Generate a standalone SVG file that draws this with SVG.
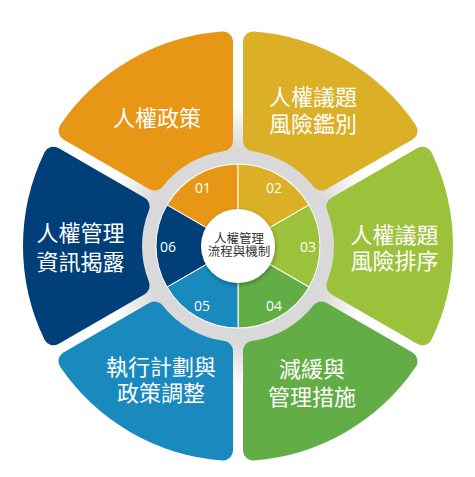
<svg xmlns="http://www.w3.org/2000/svg" width="475" height="477" viewBox="0 0 475 477">
<defs>
  <style>
    .petal{stroke-width:20;stroke-linejoin:round}
    .lbl{font-family:"Noto Sans CJK TC","Noto Sans CJK SC",sans-serif;font-size:22px;fill:#ffffff;text-anchor:middle}
    .num{font-family:"Open Sans","Noto Sans",sans-serif;font-size:14px;fill:#ffffff;text-anchor:middle}
    .ctr{font-family:"Noto Sans CJK TC","Noto Sans CJK SC",sans-serif;font-size:12.5px;fill:#333333;text-anchor:middle}
    .c1{fill:#E89616;stroke:#E89616}
    .c2{fill:#DBB027;stroke:#DBB027}
    .c3{fill:#9CC23B;stroke:#9CC23B}
    .c4{fill:#62AD45;stroke:#62AD45}
    .c5{fill:#1A89BD;stroke:#1A89BD}
    .c6{fill:#013F79;stroke:#013F79}
    .s1{fill:#E89616}
    .s2{fill:#DBB027}
    .s3{fill:#9CC23B}
    .s4{fill:#62AD45}
    .s5{fill:#1A89BD}
    .s6{fill:#013F79}
    .sec{stroke:#ffffff;stroke-width:1}
  </style>
  <radialGradient id="bgGrad" cx="0" cy="0" r="140" gradientUnits="userSpaceOnUse">
    <stop offset="0" stop-color="#d9d9d9"/>
    <stop offset="0.69" stop-color="#d9d9d9"/>
    <stop offset="0.8" stop-color="#e6e6e6"/>
    <stop offset="1" stop-color="#ffffff"/>
  </radialGradient>
  <path id="petal" d="M -89.24 -184.56 A 205 205 0 0 1 89.24 -184.56 L 39.48 -98.37 A 106 106 0 0 0 -39.48 -98.37 Z"/>
  <path id="sector" d="M 0 0 L -41 -71.01 A 82 82 0 0 1 41 -71.01 Z"/>
  <filter id="shadow" x="-30%" y="-30%" width="160%" height="160%">
    <feDropShadow dx="0.5" dy="1.5" stdDeviation="2" flood-color="#000000" flood-opacity="0.35"/>
  </filter>
</defs>
<rect width="475" height="477" fill="#ffffff"/>
<g transform="translate(238,246)">
  <circle r="140" fill="url(#bgGrad)"/>
  <circle r="96" fill="#d9d9d9"/>
</g>
<g id="node-01" transform="translate(238,246)">
  <use href="#petal" class="petal c1" transform="rotate(-30)"/>
  <use href="#sector" class="sec s1" transform="rotate(-30)"/>
</g>
<g id="node-02" transform="translate(238,246)">
  <use href="#petal" class="petal c2" transform="rotate(30)"/>
  <use href="#sector" class="sec s2" transform="rotate(30)"/>
</g>
<g id="node-03" transform="translate(238,246)">
  <use href="#petal" class="petal c3" transform="rotate(90)"/>
  <use href="#sector" class="sec s3" transform="rotate(90)"/>
</g>
<g id="node-04" transform="translate(238,246)">
  <use href="#petal" class="petal c4" transform="rotate(150)"/>
  <use href="#sector" class="sec s4" transform="rotate(150)"/>
</g>
<g id="node-05" transform="translate(238,246)">
  <use href="#petal" class="petal c5" transform="rotate(210)"/>
  <use href="#sector" class="sec s5" transform="rotate(210)"/>
</g>
<g id="node-06" transform="translate(238,246)">
  <use href="#petal" class="petal c6" transform="rotate(270)"/>
  <use href="#sector" class="sec s6" transform="rotate(270)"/>
</g>
<g id="connectors"></g>
<g id="labels">
  <text class="lbl" x="157" y="126">人權政策</text>
  <text class="lbl" x="313" y="104.5">人權議題<tspan x="313" dy="27">風險鑑別</tspan></text>
  <text class="lbl" x="394.5" y="243">人權議題<tspan x="394.5" dy="25.5">風險排序</tspan></text>
  <text class="lbl" x="312" y="376.5">減緩與<tspan x="312" dy="28">管理措施</tspan></text>
  <text class="lbl" x="161" y="375">執行計劃與<tspan x="161" dy="26">政策調整</tspan></text>
  <text class="lbl" x="80.5" y="241">人權管理<tspan x="80.5" dy="28.5">資訊揭露</tspan></text>
</g>
<g id="numbers">
  <text class="num" x="203" y="193">01</text>
  <text class="num" x="274" y="193">02</text>
  <text class="num" x="308" y="252">03</text>
  <text class="num" x="274" y="311">04</text>
  <text class="num" x="202" y="311">05</text>
  <text class="num" x="168" y="252">06</text>
</g>
<g id="center">
  <circle cx="238" cy="246" r="37" fill="#ffffff" filter="url(#shadow)"/>
  <text class="ctr" x="239" y="242.5">人權管理<tspan x="239" dy="13.5">流程與機制</tspan></text>
</g>
</svg>
